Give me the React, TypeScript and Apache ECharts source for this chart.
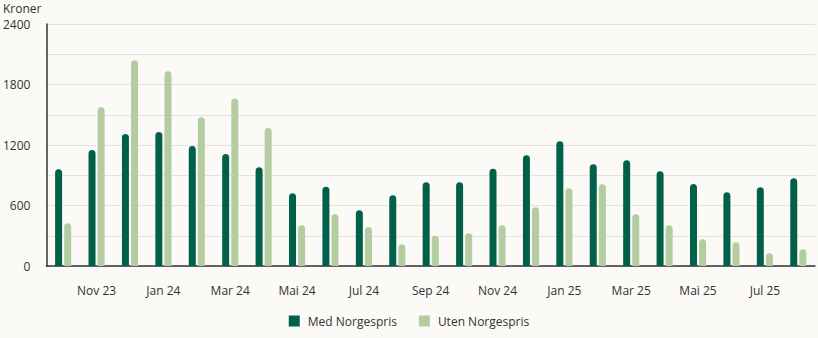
import React, { useEffect, useRef } from "react";
import * as echarts from "echarts";

const months = [
  "Okt 23", "Nov 23", "Des 23", "Jan 24", "Feb 24", "Mar 24", "Apr 24", "Mai 24",
  "Jun 24", "Jul 24", "Aug 24", "Sep 24", "Okt 24", "Nov 24", "Des 24", "Jan 25",
  "Feb 25", "Mar 25", "Apr 25", "Mai 25", "Jun 25", "Jul 25", "Aug 25",
];
const medNorgespris = [
  959, 1151, 1309, 1329, 1190, 1111, 979, 721, 787, 552, 701, 830, 830, 965, 1098,
  1237, 1009, 1048, 939, 813, 731, 781, 870,
];
const utenNorgespris = [
  424, 1575, 2040, 1931, 1476, 1660, 1369, 404, 513, 387, 215, 301, 324, 404, 582,
  771, 810, 513, 404, 265, 235, 126, 166,
];
const seriesNames = ["Med Norgespris", "Uten Norgespris"];
const yTickLabels = [0, 600, 1200, 1800, 2400];

const FONT = "'Open Sans', 'Noto Sans', sans-serif";
const TEXT = "#333333";

export default function App() {
  const ref = useRef<HTMLDivElement>(null);
  useEffect(() => {
    document.body.style.margin = "0";
    const chart = echarts.init(ref.current!, null, { renderer: "svg" });
    chart.setOption({
      animation: false,
      backgroundColor: "#fbfaf6",
      textStyle: { fontFamily: FONT },
      title: {
        text: "Kroner",
        left: 3,
        top: 1,
        padding: 0,
        textStyle: { fontSize: 12, fontWeight: "normal", color: TEXT, fontFamily: FONT, lineHeight: 14 },
      },
      grid: { left: 44, right: 3, top: 24, bottom: 72 },
      legend: {
        bottom: 6,
        left: "center",
        itemWidth: 11,
        itemHeight: 11,
        itemGap: 22,
        icon: "rect",
        textStyle: { fontSize: 12, color: TEXT, fontFamily: FONT, padding: [0, 0, 0, 3] },
        data: seriesNames,
      },
      xAxis: {
        type: "category",
        data: months,
        axisLine: { lineStyle: { color: "#333333", width: 1.5 } },
        axisTick: {
          alignWithLabel: true,
          length: 8,
          lineStyle: { color: "#333333", width: 1.5 },
          interval: (i: number) => i % 2 === 1,
        },
        axisLabel: {
          interval: (i: number) => i % 2 === 1,
          margin: 18,
          fontSize: 12,
          color: TEXT,
          fontFamily: FONT,
        },
      },
      yAxis: {
        type: "value",
        min: 0,
        max: 2400,
        interval: 300,
        axisLine: { show: true, lineStyle: { color: "#333333", width: 1.5 } },
        axisTick: { show: false },
        splitLine: { lineStyle: { color: "#e5e3df", width: 1 } },
        axisLabel: {
          margin: 16,
          fontSize: 12,
          color: TEXT,
          fontFamily: FONT,
          formatter: (v: number) => (yTickLabels.includes(v) ? String(v) : ""),
        },
      },
      series: [
        {
          name: seriesNames[0],
          type: "bar",
          data: medNorgespris,
          barWidth: 7,
          barGap: "30%",
          itemStyle: { color: "#00604a", borderRadius: [3.5, 3.5, 0, 0] },
        },
        {
          name: seriesNames[1],
          type: "bar",
          data: utenNorgespris,
          barWidth: 7,
          barGap: "30%",
          itemStyle: { color: "#b4cda0", borderRadius: [3.5, 3.5, 0, 0] },
        },
      ],
    });
    return () => chart.dispose();
  }, []);
  return (
    <div
      ref={ref}
      style={{ position: "absolute", left: 0, top: 0, width: 818, height: 338 }}
    />
  );
}
